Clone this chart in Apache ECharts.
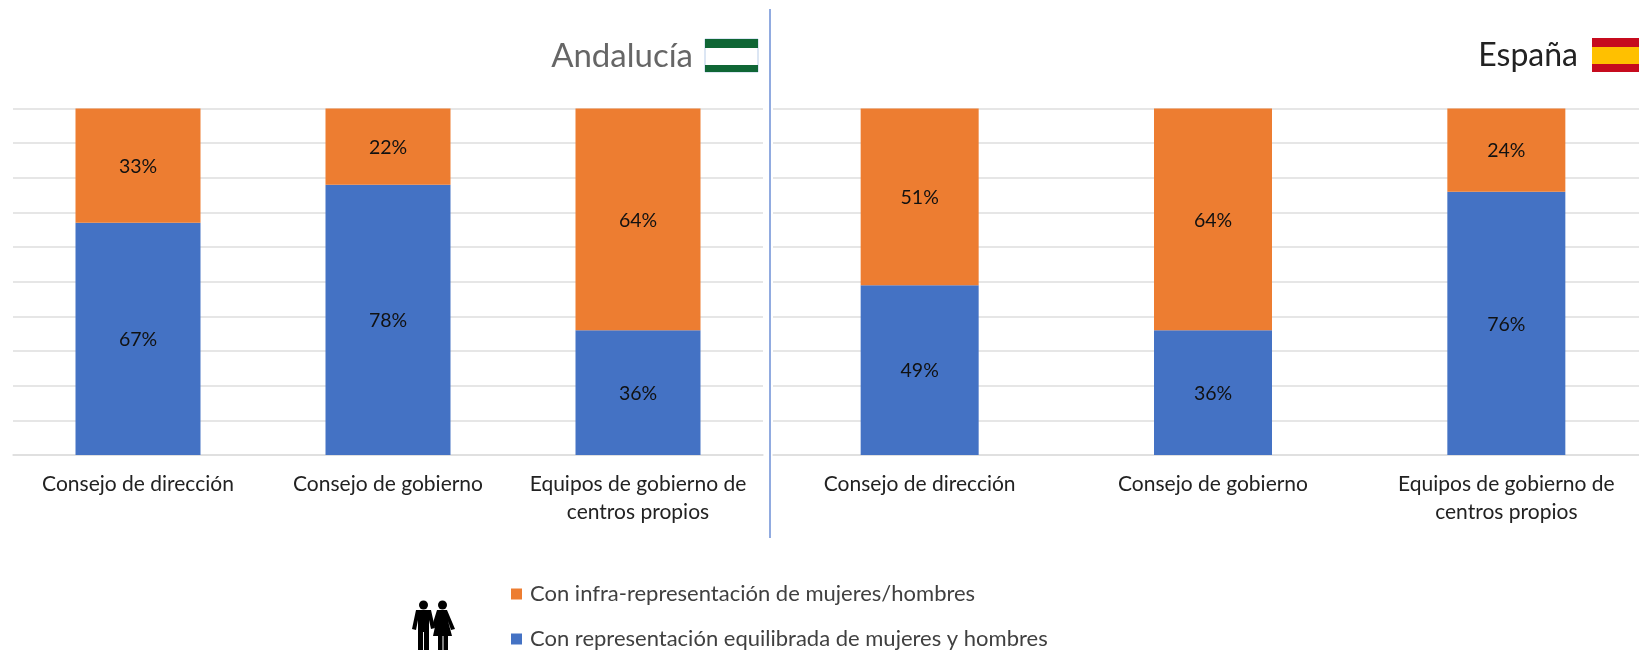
<!DOCTYPE html>
<html>
<head>
<meta charset="utf-8">
<style>
  html, body { margin: 0; padding: 0; background: #fff; }
  #chart { width: 1639px; height: 651px; }
</style>
<script src="https://cdn.jsdelivr.net/npm/echarts@6/dist/echarts.min.js"></script>
</head>
<body>
<div id="chart"></div>
<script>
const categories = ["Consejo de dirección", "Consejo de gobierno", "Equipos de gobierno de\ncentros propios"];
const nameUnder = "Con infra-representación de mujeres/hombres";
const nameBalanced = "Con representación equilibrada de mujeres y hombres";

const andaluciaBalanced = [67, 78, 36];
const andaluciaUnder = [33, 22, 64];
const espanaBalanced = [49, 36, 76];
const espanaUnder = [51, 64, 24];

const FONT = "Lato";
const BLUE = "#4472C4";
const ORANGE = "#ED7D31";
const GRID_LINE = "#DEDEDE";

const chart = echarts.init(document.getElementById("chart"));

function makeX(gridIndex) {
  return {
    type: "category",
    gridIndex: gridIndex,
    data: categories,
    axisTick: { show: false },
    axisLine: { show: true, lineStyle: { color: GRID_LINE, width: 1.5 } },
    axisLabel: { interval: 0, color: "#222", fontFamily: FONT, fontSize: 21, lineHeight: 28, margin: 15 },
  };
}

function makeY(gridIndex) {
  return {
    type: "value",
    gridIndex: gridIndex,
    min: 0,
    max: 100,
    interval: 10,
    axisLabel: { show: false },
    axisLine: { show: false },
    axisTick: { show: false },
    splitLine: { show: true, lineStyle: { color: GRID_LINE, width: 1.5 } },
  };
}

function makeBar(name, values, color, axis, stack, width) {
  return {
    name: name,
    type: "bar",
    stack: stack,
    xAxisIndex: axis,
    yAxisIndex: axis,
    barWidth: width,
    data: values,
    itemStyle: { color: color },
    label: { show: true, position: "inside", offset: [0, 1], formatter: "{c}%", color: "#111", fontFamily: FONT, fontSize: 19.5 },
  };
}

// the two flags and the couple pictogram are decoration, so they go in as graphic shapes
const flagAndalucia = [
  { type: "rect", shape: { x: 705, y: 39, width: 53, height: 33 }, style: { fill: "#fff", stroke: "#B9CDE8", lineWidth: 1 } },
  { type: "rect", shape: { x: 705, y: 39, width: 53, height: 9 }, style: { fill: "#0F6635" } },
  { type: "rect", shape: { x: 705, y: 65, width: 53, height: 7 }, style: { fill: "#0F6635" } },
];
const flagEspana = [
  { type: "rect", shape: { x: 1592, y: 38, width: 47, height: 34 }, style: { fill: "#C60B1E" } },
  { type: "rect", shape: { x: 1592, y: 47, width: 47, height: 17 }, style: { fill: "#FFC000" } },
];
const manBody = [[416, 610], [431, 610], [435, 628], [431, 629], [429, 620], [429, 650], [424, 650], [424, 632], [423, 632], [423, 650], [418, 650], [418, 620], [416, 630], [412, 629]];
const womanBody = [[437, 610], [447, 610], [455, 629], [451, 630], [448, 621], [452, 636], [448, 636], [448, 650], [443.5, 650], [443.5, 636], [442.5, 636], [442.5, 650], [438, 650], [438, 636], [433, 636], [436, 622], [435, 627], [432, 626]];
const couple = [
  { type: "circle", shape: { cx: 423.5, cy: 605, r: 4.5 }, style: { fill: "#000" } },
  { type: "circle", shape: { cx: 442.5, cy: 605, r: 4.5 }, style: { fill: "#000" } },
  { type: "polygon", shape: { points: manBody }, style: { fill: "#000" } },
  { type: "polygon", shape: { points: womanBody }, style: { fill: "#000" } },
];

const option = {
  animation: false,
  backgroundColor: "#fff",
  grid: [
    { left: 13, top: 108.5, width: 750, height: 346.5, outerBoundsMode: "none" },
    { left: 773, top: 108.5, width: 880, height: 346.5, outerBoundsMode: "none" },
  ],
  xAxis: [makeX(0), makeX(1)],
  yAxis: [makeY(0), makeY(1)],
  legend: {
    orient: "vertical",
    left: 511,
    top: 582,
    height: 100,
    padding: 0,
    itemWidth: 11,
    itemHeight: 11,
    itemGap: 21,
    icon: "rect",
    data: [nameUnder, nameBalanced],
    textStyle: { color: "#404040", fontFamily: FONT, fontSize: 22, lineHeight: 24, padding: [0, 0, 0, 3] },
  },
  series: [
    makeBar(nameBalanced, andaluciaBalanced, BLUE, 0, "andalucia", 125),
    makeBar(nameUnder, andaluciaUnder, ORANGE, 0, "andalucia", 125),
    makeBar(nameBalanced, espanaBalanced, BLUE, 1, "espana", 118),
    makeBar(nameUnder, espanaUnder, ORANGE, 1, "espana", 118),
  ],
  graphic: [
    { type: "line", shape: { x1: 770, y1: 9, x2: 770, y2: 538 }, style: { stroke: "#6C8FD6", lineWidth: 1.5 } },
    { type: "text", style: { x: 693, y: 56, text: "Andalucía", align: "right", verticalAlign: "middle", fill: "#666", fontFamily: FONT, fontSize: 33 } },
    { type: "text", style: { x: 1578, y: 56, text: "España", align: "right", verticalAlign: "middle", fill: "#222", fontFamily: FONT, fontSize: 32 } },
    ...flagAndalucia,
    ...flagEspana,
    ...couple,
  ],
};

chart.setOption(option);
</script>
</body>
</html>
